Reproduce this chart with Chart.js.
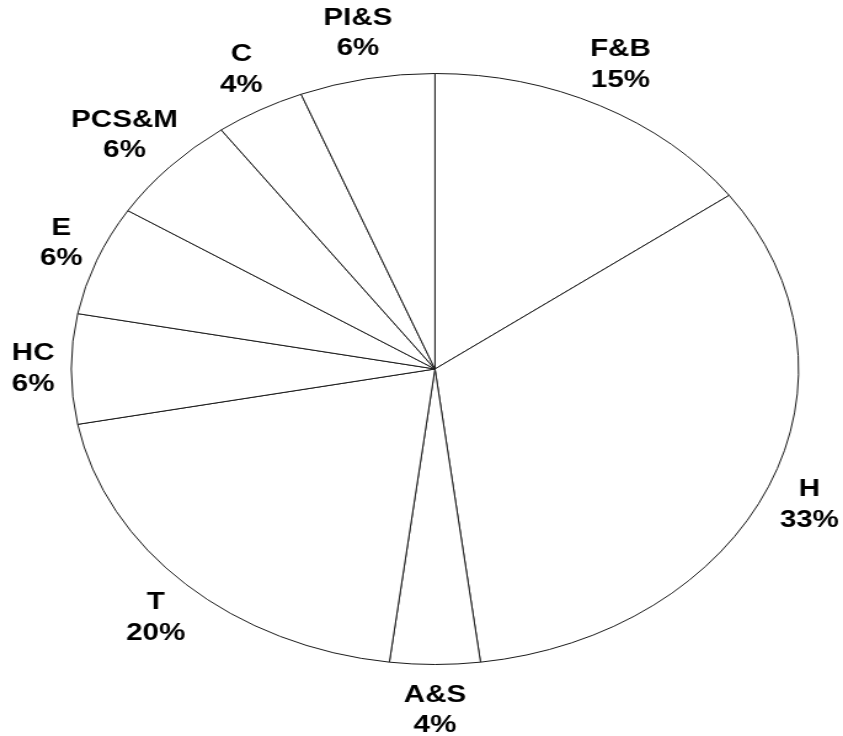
<!DOCTYPE html>
<html>
<head>
<meta charset="utf-8">
<title>Pie chart</title>
<script src="https://cdn.jsdelivr.net/npm/chart.js@4/dist/chart.umd.min.js"></script>
<style>
  html, body { margin: 0; padding: 0; background: #ffffff; overflow: hidden; }
  #wrap {
    width: 685px;
    height: 736px;
    transform: scaleX(1.2307);
    transform-origin: 0 0;
  }
  canvas { display: block; }
</style>
</head>
<body>
<div id="wrap"><canvas id="pie" width="685" height="736"></canvas></div>
<script>
// Share of each category, in percent, clockwise from 12 o'clock
const categories = ['F&B', 'H', 'A&S', 'T', 'HC', 'E', 'PCS&M', 'C', 'PI&S'];
const shares = [15, 33, 4, 20, 6, 6, 6, 4, 6];

const LABEL_FONT = 'bold 24px "Liberation Sans", Arial, sans-serif';
const LINE_GAP = 30.5;

// Two-line outside labels: category name over its percentage
const outsideLabels = {
  id: 'outsideLabels',
  afterDatasetsDraw(chart) {
    const ctx = chart.ctx;
    const meta = chart.getDatasetMeta(0);
    ctx.save();
    ctx.font = LABEL_FONT;
    ctx.fillStyle = '#000000';
    ctx.textAlign = 'center';
    ctx.textBaseline = 'middle';
    meta.data.forEach((arc, i) => {
      const p = arc.getProps(['x', 'y', 'startAngle', 'endAngle', 'outerRadius'], true);
      const mid = (p.startAngle + p.endAngle) / 2;
      const ux = Math.cos(mid), uy = Math.sin(mid);
      const line1 = categories[i];
      const line2 = shares[i] + '%';
      const halfW = Math.max(ctx.measureText(line1).width, ctx.measureText(line2).width) / 2;
      const halfH = 28;
      const dist = p.outerRadius + 18;
      const cx = p.x + ux * dist + ux * halfW * 0.75;
      const cy = p.y + uy * dist + uy * halfH;
      ctx.fillText(line1, cx, cy - LINE_GAP / 2);
      ctx.fillText(line2, cx, cy + LINE_GAP / 2);
    });
    ctx.restore();
  }
};

new Chart(document.getElementById('pie'), {
  type: 'pie',
  data: {
    labels: categories,
    datasets: [{
      data: shares,
      backgroundColor: '#ffffff',
      borderColor: '#1a1a1a',
      borderWidth: 1,
      borderAlign: 'center'
    }]
  },
  options: {
    responsive: false,
    animation: false,
    events: [],
    rotation: 0,
    layout: {
      padding: { top: 73, bottom: 71, left: 57.4, right: 35.6 }
    },
    plugins: {
      legend: { display: false },
      tooltip: { enabled: false }
    }
  },
  plugins: [outsideLabels]
});
</script>
</body>
</html>
